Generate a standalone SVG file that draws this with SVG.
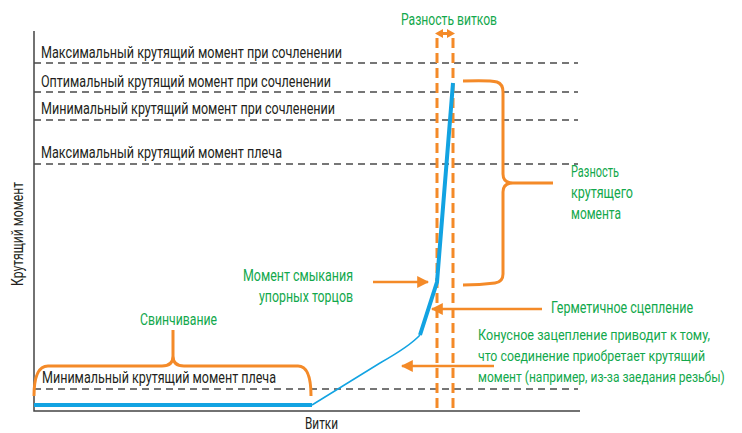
<svg xmlns="http://www.w3.org/2000/svg" width="742" height="433" viewBox="0 0 742 433">
<defs>
<style>
.lbl{font-family:"Liberation Sans Narrow","Roboto","Liberation Sans",sans-serif;font-size:16px;fill:#231f20}
.grn{font-family:"Liberation Sans Narrow","Roboto","Liberation Sans",sans-serif;font-size:16px;fill:#12a84c}
.sm{font-size:14px}
.dash{stroke:#4a4a4a;stroke-width:1.5;stroke-dasharray:7,5;fill:none}
.odash{stroke:#f48a28;stroke-width:3;stroke-dasharray:10,5;fill:none}
.brace{stroke:#f48a28;stroke-width:3;fill:none}
.arr{stroke:#f48a28;stroke-width:2.5;fill:none}
.ax{stroke:#444;stroke-width:1.5;fill:none}
.blue{stroke:#12a3e2;fill:none}
</style>
<marker id="ah" viewBox="0 0 10 10" refX="9" refY="5" markerWidth="12" markerHeight="12" markerUnits="userSpaceOnUse" orient="auto">
<path d="M0,0 L10,5 L0,10 Z" fill="#f48a28"/>
</marker>
</defs>
<rect width="742" height="433" fill="#fff"/>

<g id="axes">
<path class="ax" d="M34,31 L34,411 L580,411"/>
<text class="lbl" transform="translate(23,234) rotate(-90)" text-anchor="middle" textLength="104" lengthAdjust="spacingAndGlyphs">Крутящий момент</text>
<text class="lbl" x="305" y="429" textLength="33" lengthAdjust="spacingAndGlyphs">Витки</text>
</g>

<g id="levels">
<path class="dash" d="M34,63 H578 M34,92 H578 M34,120 H578 M34,164 H578 M34,389 H578"/>
<text class="lbl" x="41" y="58" textLength="301" lengthAdjust="spacingAndGlyphs">Максимальный крутящий момент при сочленении</text>
<text class="lbl" x="41" y="87" textLength="290" lengthAdjust="spacingAndGlyphs">Оптимальный крутящий момент при сочленении</text>
<text class="lbl" x="41" y="114" textLength="294" lengthAdjust="spacingAndGlyphs">Минимальный крутящий момент при сочленении</text>
<text class="lbl" x="41" y="158" textLength="241" lengthAdjust="spacingAndGlyphs">Максимальный крутящий момент плеча</text>
<text class="lbl" x="42" y="383" textLength="234" lengthAdjust="spacingAndGlyphs">Минимальный крутящий момент плеча</text>
</g>

<g id="turn-diff">
<path class="odash" d="M437,38 V411 M453,38 V411"/>
<polygon fill="#f48a28" points="435,33.5 443,29 443,32 447,32 447,29 455,33.5 447,38 447,35 443,35 443,38"/>
<text class="grn" x="401" y="25" textLength="96" lengthAdjust="spacingAndGlyphs">Разность витков</text>
</g>

<g id="curve">
<path class="blue" stroke-width="4" d="M34,405 H312"/>
<path class="blue" stroke-width="1.5" d="M312,405 L380,363 Q410,346 420,335"/>
<path class="blue" stroke-width="4" d="M420,335 L437,282 L453,83"/>
</g>

<g id="torque-diff">
<path class="brace" d="M463,81 Q490,80 497,82 Q503,84 503,92 L503,174 Q503,183 513,183 L553,183 M513,183 Q503,183 503,192 L503,274 Q503,282 495,283 Q480,285 463,285"/>
<text class="grn" x="571" y="177" textLength="48" lengthAdjust="spacingAndGlyphs">Разность</text>
<text class="grn" x="571" y="198" textLength="62" lengthAdjust="spacingAndGlyphs">крутящего</text>
<text class="grn" x="571" y="219" textLength="50" lengthAdjust="spacingAndGlyphs">момента</text>
</g>

<g id="swivel">
<path class="brace" d="M34,396 Q34,366 48,366 L162,366 Q173,366 173,356 L173,330 M173,356 Q173,366 184,366 L298,366 Q311,366 311,396"/>
<text class="grn" x="140" y="325" textLength="77" lengthAdjust="spacingAndGlyphs">Свинчивание</text>
</g>

<g id="shoulder">
<path class="arr" d="M373,282 H428" marker-end="url(#ah)"/>
<text class="grn" x="353" y="281" text-anchor="end" textLength="110" lengthAdjust="spacingAndGlyphs">Момент смыкания</text>
<text class="grn" x="353" y="302" text-anchor="end" textLength="94" lengthAdjust="spacingAndGlyphs">упорных торцов</text>
</g>

<g id="seal">
<path class="arr" d="M542,309 H432" marker-end="url(#ah)"/>
<text class="grn" x="551" y="313" textLength="142" lengthAdjust="spacingAndGlyphs">Герметичное сцепление</text>
</g>

<g id="cone">
<path class="arr" d="M494,366 H402" marker-end="url(#ah)"/>
<text class="grn sm" x="478" y="340" textLength="232" lengthAdjust="spacingAndGlyphs">Конусное зацепление приводит к тому,</text>
<text class="grn sm" x="478" y="361" textLength="227" lengthAdjust="spacingAndGlyphs">что соединение приобретает крутящий</text>
<text class="grn sm" transform="translate(478,382) scale(0.86,1)">момент (например, из-за заедания резьбы)</text>
</g>
</svg>
